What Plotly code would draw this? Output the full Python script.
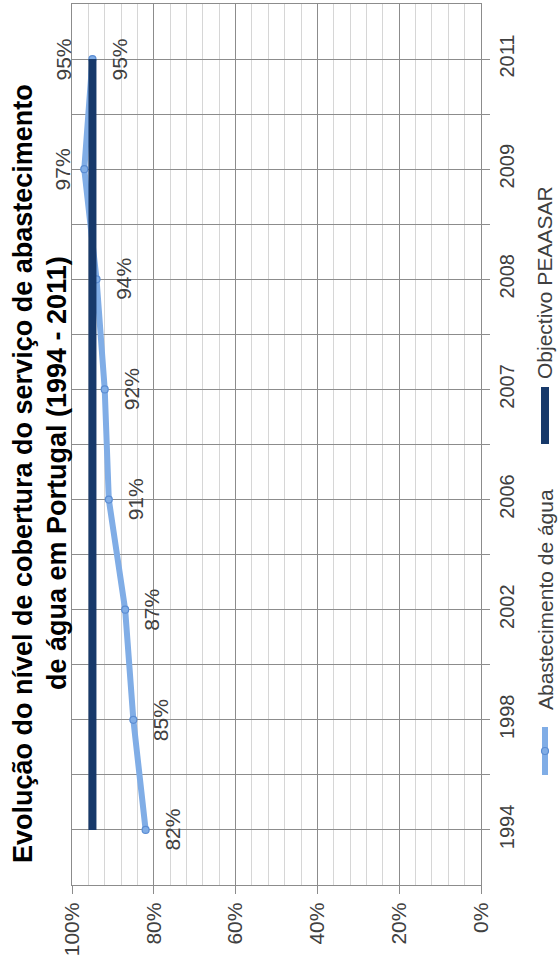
import plotly.graph_objects as go

# Data
years = ["1994", "1998", "2002", "2006", "2007", "2008", "2009", "2011"]
abastecimento = [82, 85, 87, 91, 92, 94, 97, 95]
objectivo = [95, 95, 95, 95, 95, 95, 95, 95]
value_ticks = [0, 20, 40, 60, 80, 100]
value_tick_text = ["0%", "20%", "40%", "60%", "80%", "100%"]

title_lines = [
    "Evolução do nível de cobertura do serviço de abastecimento",
    "de água em Portugal (1994 - 2011)",
]
legend_names = ["Abastecimento de água", "Objectivo PEAASAR"]

FONT = "Liberation Sans, Arial, Helvetica, sans-serif"
LIGHT = "#80ADE6"
LIGHT_EDGE = "#5B8DD3"
DARK = "#17396A"
TEXT = "#404040"

W, H = 560, 979
PL, PR, PT, PB = 72, 481, 4, 885  # plot-area edges in pixels
LEG_X = 545


def px_x(p):
    return (p - PL) / (PR - PL)


def px_y(p):
    return (PB - p) / (PB - PT)


idx = list(range(len(years)))

fig = go.Figure()
fig.add_trace(go.Scatter(
    x=abastecimento, y=idx, mode="lines+markers", name=legend_names[0],
    line=dict(color=LIGHT, width=6),
    marker=dict(symbol="circle", size=7, color=LIGHT,
                line=dict(color=LIGHT_EDGE, width=1.2)),
    showlegend=False,
))
fig.add_trace(go.Scatter(
    x=objectivo, y=idx, mode="lines", name=legend_names[1],
    line=dict(color=DARK, width=8),
    showlegend=False,
))

annotations = []
# value labels for the supply series
for i, v in enumerate(abastecimento):
    shift = -22 if v > objectivo[i] else 27
    annotations.append(dict(
        x=v, y=i, xref="x", yref="y", text=f"{v}%", showarrow=False,
        textangle=-90, xshift=shift, font=dict(family=FONT, size=21, color=TEXT),
    ))
# label for the target at the last year
annotations.append(dict(
    x=objectivo[-1], y=idx[-1], xref="x", yref="y", text=f"{objectivo[-1]}%",
    showarrow=False, textangle=-90, xshift=-29,
    font=dict(family=FONT, size=21, color=TEXT),
))

# title, set vertically on the left
for text, cx, cy in [(title_lines[0], 23, 474), (title_lines[1], 57, 473)]:
    annotations.append(dict(
        x=px_x(cx), y=px_y(cy), xref="paper", yref="paper", text=f"<b>{text}</b>",
        showarrow=False, textangle=-90, xanchor="center", yanchor="middle",
        font=dict(family=FONT, size=27, color="#000000"),
    ))

# legend, set vertically on the right
for text, cy in [(legend_names[0], 600), (legend_names[1], 283)]:
    annotations.append(dict(
        x=px_x(LEG_X), y=px_y(cy), xref="paper", yref="paper", text=text,
        showarrow=False, textangle=-90, xanchor="center", yanchor="middle",
        font=dict(family=FONT, size=21, color=TEXT),
    ))

shapes = [
    dict(type="line", xref="paper", yref="paper",
         x0=px_x(LEG_X), x1=px_x(LEG_X), y0=px_y(727), y1=px_y(775),
         line=dict(color=LIGHT, width=6)),
    dict(type="circle", xref="paper", yref="paper", xsizemode="pixel", ysizemode="pixel",
         xanchor=px_x(LEG_X), yanchor=px_y(751), x0=-3.5, x1=3.5, y0=-3.5, y1=3.5,
         fillcolor=LIGHT, line=dict(color=LIGHT_EDGE, width=1.2)),
    dict(type="line", xref="paper", yref="paper",
         x0=px_x(LEG_X), x1=px_x(LEG_X), y0=px_y(387), y1=px_y(444),
         line=dict(color=DARK, width=8)),
]

fig.update_layout(
    width=W, height=H,
    margin=dict(l=PL, r=W - PR, t=PT, b=H - PB, pad=0),
    paper_bgcolor="white", plot_bgcolor="white",
    font=dict(family=FONT, color=TEXT),
    showlegend=False,
    annotations=annotations,
    shapes=shapes,
    xaxis=dict(
        range=[100, 0], tickvals=value_ticks, ticktext=value_tick_text,
        tickangle=-90, tickfont=dict(family=FONT, size=21, color=TEXT),
        showgrid=True, gridcolor="#8C8C8C", gridwidth=1.3,
        showline=True, linecolor="#8C8C8C", linewidth=1.3, mirror=True,
        ticks="outside", ticklen=8, tickcolor="#8C8C8C", tickwidth=1.3,
        minor=dict(dtick=4, showgrid=True, gridcolor="#D6D6D6", gridwidth=1),
        zeroline=False, fixedrange=True,
    ),
    yaxis=dict(
        range=[-0.5, len(years) - 0.5], side="right",
        tickvals=idx, ticktext=years, tickangle=-90,
        tickfont=dict(family=FONT, size=20, color=TEXT),
        showgrid=True, gridcolor="#8C8C8C", gridwidth=1.3,
        showline=True, linecolor="#8C8C8C", linewidth=1.3, mirror=True,
        ticks="outside", ticklen=8, tickcolor="#8C8C8C", tickwidth=1.3,
        minor=dict(tickvals=[i + 0.5 for i in idx[:-1]], showgrid=True,
                   gridcolor="#8C8C8C", gridwidth=1.3,
                   ticks="outside", ticklen=8, tickcolor="#8C8C8C"),
        zeroline=False, fixedrange=True,
    ),
)

fig.write_html("out.html")
